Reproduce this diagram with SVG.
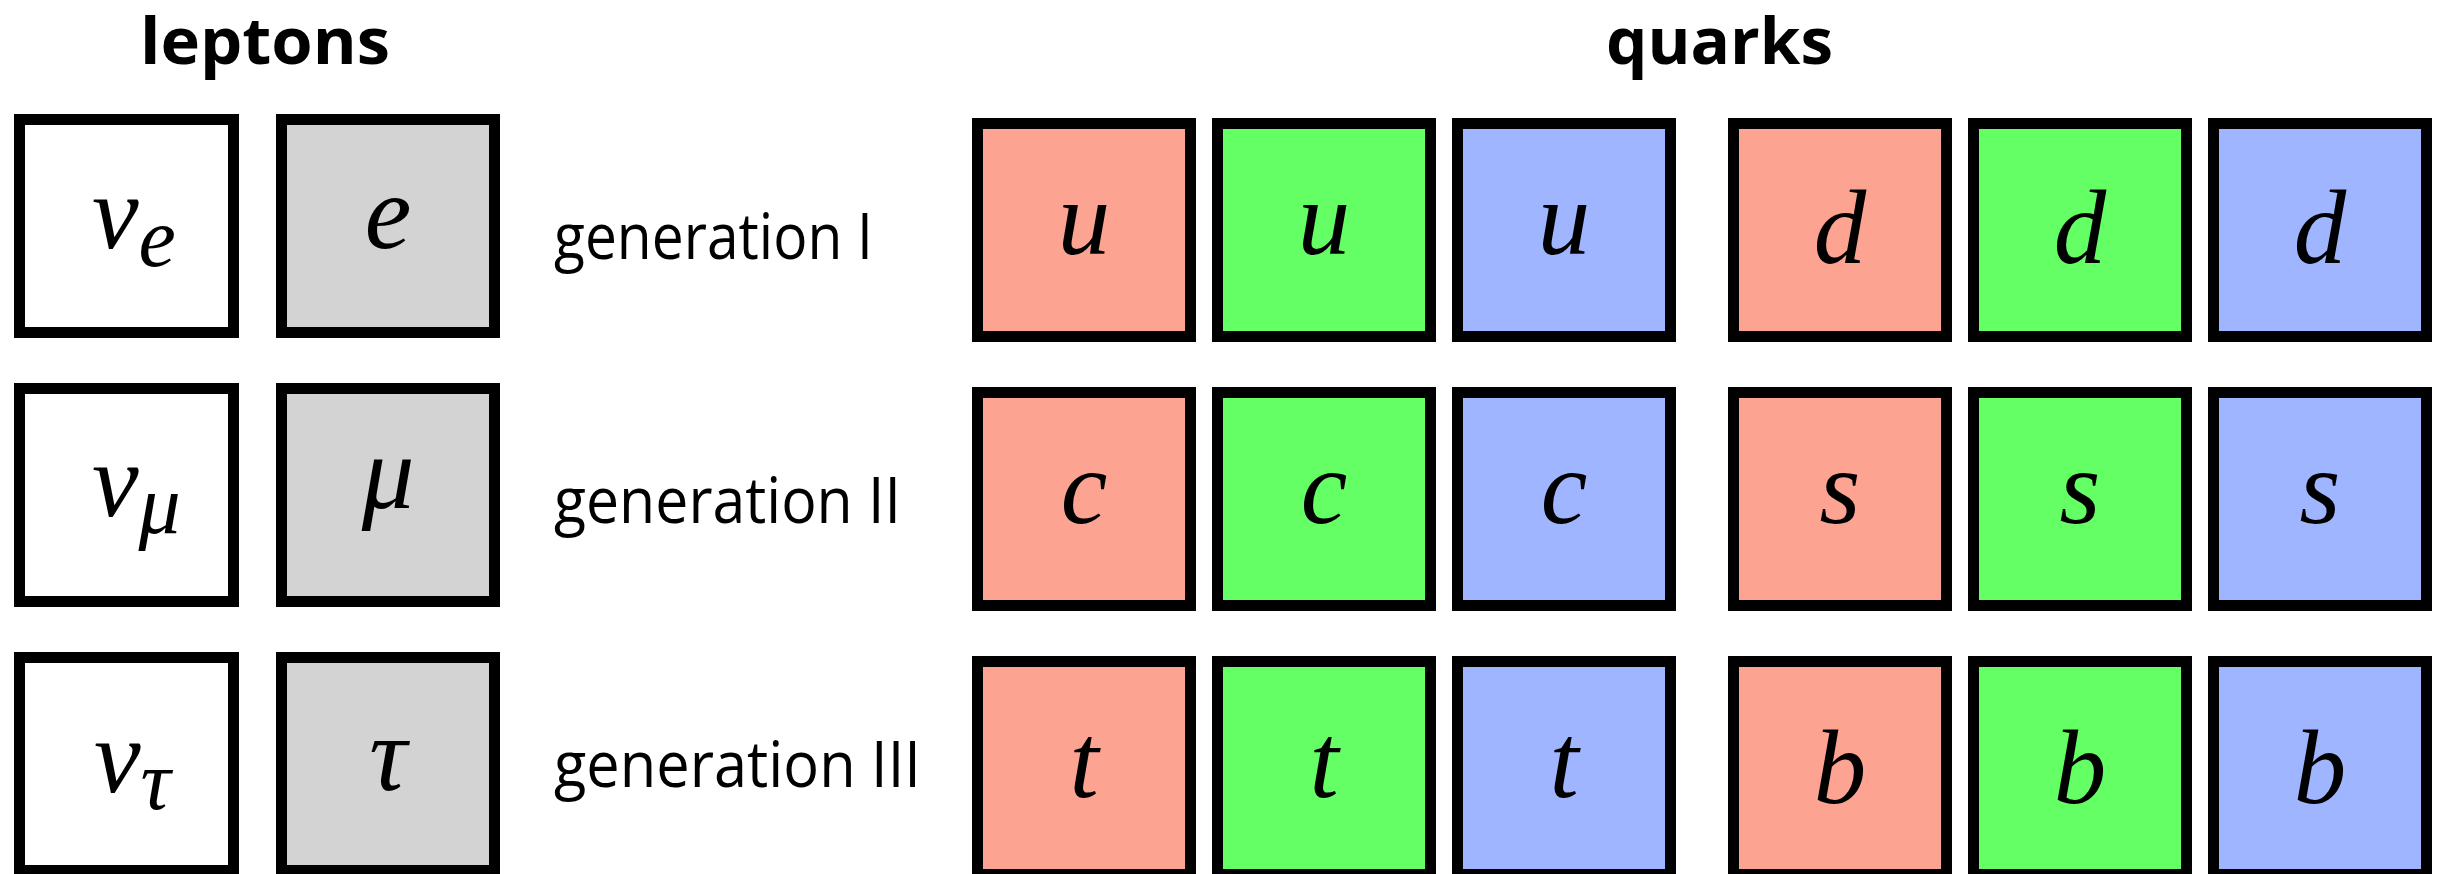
<svg xmlns="http://www.w3.org/2000/svg" width="2443" height="874" viewBox="0 0 2443 874">
  <style>
    .box { stroke: #000; stroke-width: 11; }
    .nu { fill: #fff; }
    .lep { fill: #d3d3d3; }
    .r { fill: #fca391; }
    .g { fill: #64ff64; }
    .b { fill: #a0b5ff; }
    .sym { font-family: "Liberation Serif", "DejaVu Serif", serif; font-style: italic; font-size: 105px; fill: #000; text-anchor: middle; }
    .start { text-anchor: start; }
    .sub { font-size: 84px; }
    .head { font-family: "Open Sans", "Liberation Sans", sans-serif; font-weight: bold; font-size: 64px; fill: #000; }
    .gen { font-family: "Open Sans", "Liberation Sans", sans-serif; font-size: 64px; fill: #000; }
  </style>
  <rect width="2443" height="874" fill="#fff"/>

  <!-- column headings -->
  <g id="heading-leptons"><text class="head" x="140" y="64" textLength="250" lengthAdjust="spacingAndGlyphs">leptons</text></g>
  <g id="heading-quarks"><text class="head" x="1606" y="64" textLength="227" lengthAdjust="spacingAndGlyphs">quarks</text></g>

  <!-- generation labels -->
  <g id="label-gen1"><text class="gen" x="554" y="259" textLength="319" lengthAdjust="spacingAndGlyphs">generation I</text></g>
  <g id="label-gen2"><text class="gen" x="554" y="523" textLength="347" lengthAdjust="spacingAndGlyphs">generation II</text></g>
  <g id="label-gen3"><text class="gen" x="554" y="787" textLength="367" lengthAdjust="spacingAndGlyphs">generation III</text></g>

  <!-- leptons: neutrinos -->
  <g id="nu-e"><rect class="box nu" x="19.5" y="119.5" width="214" height="213"/>
    <text class="sym start" x="92" y="248">ν<tspan class="sub" dy="18">e</tspan></text></g>
  <g id="nu-mu"><rect class="box nu" x="19.5" y="388.5" width="214" height="213"/>
    <text class="sym start" x="92" y="516">ν<tspan class="sub" dy="17">μ</tspan></text></g>
  <g id="nu-tau"><rect class="box nu" x="19.5" y="657.5" width="214" height="213"/>
    <text class="sym start" x="94" y="792">ν<tspan class="sub" dy="17">τ</tspan></text></g>

  <!-- leptons: charged -->
  <g id="electron"><rect class="box lep" x="281.5" y="119.5" width="213" height="213"/>
    <text class="sym" x="388" y="248">e</text></g>
  <g id="muon"><rect class="box lep" x="281.5" y="388.5" width="213" height="213"/>
    <text class="sym" x="388" y="508">μ</text></g>
  <g id="tau"><rect class="box lep" x="281.5" y="657.5" width="213" height="213"/>
    <text class="sym" x="388" y="790">τ</text></g>

  <!-- quarks, generation I -->
  <g id="u-red"><rect class="box r" x="977.5" y="123.5" width="213" height="213"/><text class="sym" x="1084" y="254">u</text></g>
  <g id="u-green"><rect class="box g" x="1217.5" y="123.5" width="213" height="213"/><text class="sym" x="1324" y="254">u</text></g>
  <g id="u-blue"><rect class="box b" x="1457.5" y="123.5" width="213" height="213"/><text class="sym" x="1564" y="254">u</text></g>
  <g id="d-red"><rect class="box r" x="1733.5" y="123.5" width="213" height="213"/><text class="sym" x="1840" y="263">d</text></g>
  <g id="d-green"><rect class="box g" x="1973.5" y="123.5" width="213" height="213"/><text class="sym" x="2080" y="263">d</text></g>
  <g id="d-blue"><rect class="box b" x="2213.5" y="123.5" width="213" height="213"/><text class="sym" x="2320" y="263">d</text></g>

  <!-- quarks, generation II -->
  <g id="c-red"><rect class="box r" x="977.5" y="392.5" width="213" height="213"/><text class="sym" x="1084" y="523">c</text></g>
  <g id="c-green"><rect class="box g" x="1217.5" y="392.5" width="213" height="213"/><text class="sym" x="1324" y="523">c</text></g>
  <g id="c-blue"><rect class="box b" x="1457.5" y="392.5" width="213" height="213"/><text class="sym" x="1564" y="523">c</text></g>
  <g id="s-red"><rect class="box r" x="1733.5" y="392.5" width="213" height="213"/><text class="sym" x="1840" y="523">s</text></g>
  <g id="s-green"><rect class="box g" x="1973.5" y="392.5" width="213" height="213"/><text class="sym" x="2080" y="523">s</text></g>
  <g id="s-blue"><rect class="box b" x="2213.5" y="392.5" width="213" height="213"/><text class="sym" x="2320" y="523">s</text></g>

  <!-- quarks, generation III -->
  <g id="t-red"><rect class="box r" x="977.5" y="661.5" width="213" height="213"/><text class="sym" x="1084" y="797">t</text></g>
  <g id="t-green"><rect class="box g" x="1217.5" y="661.5" width="213" height="213"/><text class="sym" x="1324" y="797">t</text></g>
  <g id="t-blue"><rect class="box b" x="1457.5" y="661.5" width="213" height="213"/><text class="sym" x="1564" y="797">t</text></g>
  <g id="b-red"><rect class="box r" x="1733.5" y="661.5" width="213" height="213"/><text class="sym" x="1840" y="803">b</text></g>
  <g id="b-green"><rect class="box g" x="1973.5" y="661.5" width="213" height="213"/><text class="sym" x="2080" y="803">b</text></g>
  <g id="b-blue"><rect class="box b" x="2213.5" y="661.5" width="213" height="213"/><text class="sym" x="2320" y="803">b</text></g>

  <g id="connectors"/>
</svg>
